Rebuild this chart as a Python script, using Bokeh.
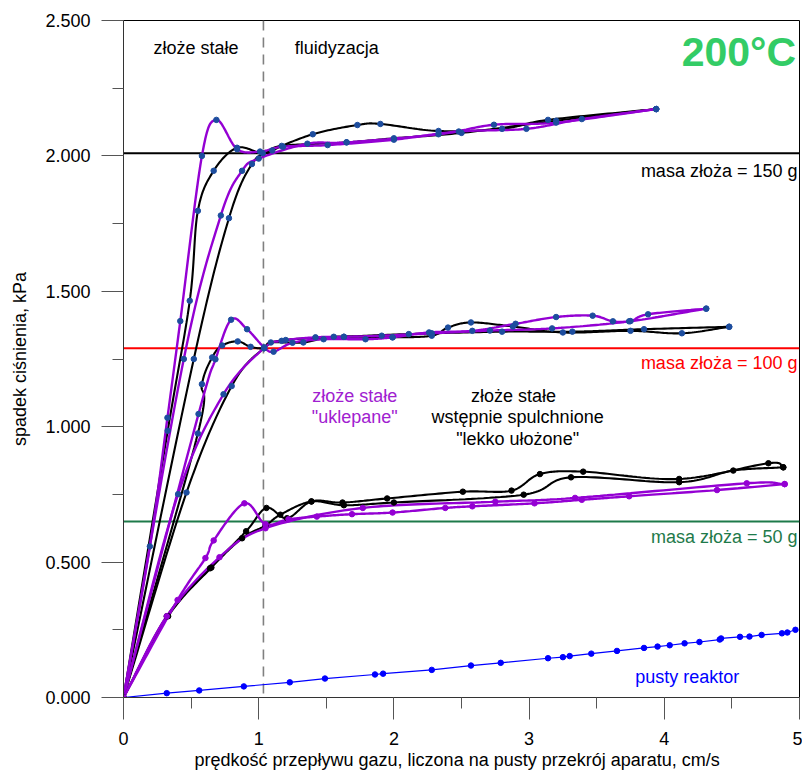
import numpy as np
from bokeh.plotting import figure
from bokeh.models import Span, Label, Title, SingleIntervalTicker, NumeralTickFormatter
from bokeh.embed import file_html
from bokeh.resources import INLINE

# ---------------- data ----------------
# 150 g bed
p150a_x = [0, 0.195, 0.325, 0.42, 0.58, 0.687, 0.84, 1.01, 1.18, 1.51, 2.0, 2.48, 2.98, 3.39, 3.94]
p150a_y = [0, 0.558, 1.033, 1.39, 2.0, 2.133, 2.025, 2.016, 2.034, 2.04, 2.06, 2.09, 2.10, 2.136, 2.173]
p150b_x = [0, 0.446, 0.72, 0.877, 1.0, 1.36, 1.65, 2.33, 2.74, 3.2, 3.94]
p150b_y = [0, 1.25, 1.78, 1.945, 1.99, 2.045, 2.05, 2.08, 2.115, 2.123, 2.173]
b150a_x = [0, 0.327, 0.49, 0.55, 0.667, 0.84, 1.03, 1.17, 1.65, 2.0, 2.5, 3.2, 3.94]
b150a_y = [0, 0.985, 1.465, 1.797, 1.945, 2.03, 2.01, 2.037, 2.05, 2.065, 2.085, 2.13, 2.173]
b150b_x = [0, 0.52, 0.78, 0.95, 1.1, 1.4, 1.73, 1.9, 2.33, 2.8, 3.14, 3.94]
b150b_y = [0, 1.25, 1.77, 1.97, 2.02, 2.08, 2.114, 2.118, 2.092, 2.10, 2.133, 2.173]

# 100 g bed
p100a_x = [0, 0.555, 0.68, 0.796, 0.914, 1.04, 1.11, 1.25, 1.48, 1.79, 1.99, 2.26, 2.58, 2.9, 3.2, 3.47, 3.62, 3.75, 3.88, 4.31]
p100a_y = [0, 1.047, 1.249, 1.395, 1.36, 1.293, 1.277, 1.31, 1.323, 1.323, 1.33, 1.348, 1.354, 1.38, 1.405, 1.41, 1.389, 1.39, 1.415, 1.436]
p100b_x = [0, 0.404, 0.74, 1.04, 1.17, 1.42, 1.63, 1.91, 2.28, 2.71, 3.17, 3.74, 4.31]
p100b_y = [0, 0.751, 1.12, 1.29, 1.317, 1.33, 1.332, 1.336, 1.345, 1.355, 1.363, 1.389, 1.436]
b100a_x = [0, 0.55, 0.58, 0.656, 0.73, 0.845, 0.94, 1.04, 1.09, 1.33, 1.555, 1.99, 2.28, 2.40, 2.57, 2.88, 3.25, 3.75, 4.13, 4.48]
b100a_y = [0, 0.975, 1.157, 1.256, 1.30, 1.315, 1.295, 1.29, 1.311, 1.311, 1.332, 1.33, 1.336, 1.366, 1.385, 1.37, 1.348, 1.354, 1.345, 1.369]
b100b_x = [0, 0.466, 0.8, 1.04, 1.2, 1.63, 2.11, 2.8, 3.32, 3.85, 4.48]
b100b_y = [0, 0.757, 1.15, 1.29, 1.32, 1.332, 1.342, 1.351, 1.351, 1.36, 1.369]

# 50 g bed
p50a_x = [0, 0.40, 0.606, 0.667, 0.894, 1.05, 1.22, 1.43, 1.69, 1.99, 2.38, 2.58, 3.04, 3.39, 3.74, 4.39, 4.89]
p50a_y = [0, 0.36, 0.515, 0.58, 0.717, 0.64, 0.658, 0.668, 0.677, 0.683, 0.70, 0.706, 0.717, 0.73, 0.743, 0.766, 0.788]
p50b_x = [0, 0.32, 0.71, 1.05, 1.77, 2.75, 3.34, 4.61, 4.89]
p50b_y = [0, 0.30, 0.518, 0.625, 0.70, 0.723, 0.737, 0.791, 0.788]
b50a_x = [0, 0.32, 0.64, 0.907, 1.057, 1.21, 1.39, 1.62, 1.95, 2.51, 2.87, 3.08, 3.40, 4.11, 4.77, 4.88]
b50a_y = [0, 0.30, 0.477, 0.614, 0.70, 0.662, 0.724, 0.72, 0.735, 0.76, 0.764, 0.825, 0.834, 0.807, 0.865, 0.85]
b50b_x = [0, 0.33, 0.65, 0.877, 1.05, 1.16, 1.39, 1.63, 2.0, 2.96, 3.31, 4.11, 4.51, 4.88]
b50b_y = [0, 0.30, 0.48, 0.588, 0.635, 0.675, 0.724, 0.71, 0.72, 0.749, 0.813, 0.795, 0.838, 0.85]

# empty reactor
empty_x = [0, 0.32, 0.56, 0.89, 1.23, 1.49, 1.86, 1.92, 2.28, 2.57, 2.79, 3.14, 3.25, 3.30, 3.46, 3.65,
           3.85, 3.95, 4.04, 4.15, 4.26, 4.41, 4.42, 4.56, 4.63, 4.72, 4.87, 4.91, 4.97]
empty_y = [0, 0.016, 0.026, 0.041, 0.056, 0.07, 0.085, 0.088, 0.102, 0.118, 0.128, 0.145, 0.149, 0.153,
           0.162, 0.172, 0.183, 0.188, 0.193, 0.20, 0.205, 0.214, 0.218, 0.224, 0.225, 0.231, 0.237, 0.24, 0.25]

# bed weight lines and minimum fluidization velocity
bed_levels = [2.01, 1.29, 0.65]
bed_labels = ["masa złoża = 150 g", "masa złoża = 100 g", "masa złoża = 50 g"]
u_mf = 1.035

x_ticks_interval = 1
y_ticks_interval = 0.5

# ---------------- helpers ----------------
def smooth(xs, ys, n=24):
    """Uniform Catmull-Rom curve through the given points (drawing only)."""
    P = np.column_stack([np.asarray(xs, float), np.asarray(ys, float)])
    if len(P) < 3:
        return P[:, 0], P[:, 1]
    P = np.vstack([2 * P[0] - P[1], P, 2 * P[-1] - P[-2]])
    out = []
    t = np.linspace(0, 1, n, endpoint=False)[:, None]
    for i in range(1, len(P) - 2):
        p0, p1, p2, p3 = P[i - 1], P[i], P[i + 1], P[i + 2]
        seg = 0.5 * ((2 * p1) + (-p0 + p2) * t + (2 * p0 - 5 * p1 + 4 * p2 - p3) * t ** 2
                     + (-p0 + 3 * p1 - 3 * p2 + p3) * t ** 3)
        out.append(seg)
    out.append(P[-2][None, :])
    out = np.vstack(out)
    return out[:, 0], out[:, 1]

FONT = "Liberation Sans"
BLACK = "#000000"
PURPLE = "#9400d3"
DOT = "#1d4d9e"

p = figure(width=802, height=774, x_range=(0, 5), y_range=(0, 2.5),
           output_backend="svg", toolbar_location=None,
           min_border_left=123, min_border_right=3, min_border_top=20, min_border_bottom=77)
p.grid.visible = False
p.background_fill_color = "white"
p.border_fill_color = "white"
p.outline_line_color = "black"
p.outline_line_width = 1

# axes
p.xaxis.ticker = SingleIntervalTicker(interval=x_ticks_interval, num_minor_ticks=2)
p.yaxis.ticker = SingleIntervalTicker(interval=y_ticks_interval, num_minor_ticks=2)
p.yaxis.formatter = NumeralTickFormatter(format="0.000")
for ax in (p.xaxis, p.yaxis):
    ax.major_tick_out = 22
    ax.major_tick_in = 0
    ax.minor_tick_out = 11
    ax.minor_tick_in = 0
    ax.major_tick_line_color = "#555555"
    ax.minor_tick_line_color = "#555555"
    ax.axis_line_color = "#333333"
    ax.major_label_text_font = FONT
    ax.major_label_text_font_size = "18px"
    ax.major_label_text_color = "black"
    ax.axis_label_text_font = FONT
    ax.axis_label_text_font_size = "18px"
    ax.axis_label_text_font_style = "normal"
    ax.axis_label_text_color = "black"
p.xaxis.major_label_standoff = 12
p.yaxis.major_label_standoff = 11
p.yaxis.axis_label = "spadek ciśnienia, kPa"
p.yaxis.axis_label_standoff = 12

# x-axis title (placed left of centre, as in the original)
p.add_layout(Title(text="prędkość przepływu gazu, liczona na pusty przekrój aparatu, cm/s",
                   align="left", offset=71, standoff=0, text_font=FONT, text_font_size="18px",
                   text_font_style="normal", text_color="black"), "below")

# reference lines
level_colors = ["#000000", "#ff0000", "#1e7a4a"]
for lvl, col in zip(bed_levels, level_colors):
    p.add_layout(Span(location=lvl, dimension="width", line_color=col, line_width=2, level="underlay"))
p.add_layout(Span(location=u_mf, dimension="height", line_color="#808080", line_width=1.6,
                  line_dash="10 7", level="underlay"))

# empty reactor
p.line(empty_x, empty_y, line_color="#0000ff", line_width=1.2)
p.scatter(empty_x, empty_y, size=5.5, color="#0000ff")

series = [
    (b150a_x, b150a_y, BLACK, DOT), (b150b_x, b150b_y, BLACK, DOT),
    (p150a_x, p150a_y, PURPLE, DOT), (p150b_x, p150b_y, PURPLE, DOT),
    (b100a_x, b100a_y, BLACK, DOT), (b100b_x, b100b_y, BLACK, DOT),
    (p100a_x, p100a_y, PURPLE, DOT), (p100b_x, p100b_y, PURPLE, DOT),
    (b50a_x, b50a_y, BLACK, BLACK), (b50b_x, b50b_y, BLACK, BLACK),
    (p50a_x, p50a_y, PURPLE, PURPLE), (p50b_x, p50b_y, PURPLE, PURPLE),
]
for xs, ys, lc, mc in series:
    sx, sy = smooth(xs, ys)
    p.line(sx, sy, line_color=lc, line_width=2.4 if lc == PURPLE else 2.1)
for xs, ys, lc, mc in series:
    p.scatter(xs, ys, size=5.5, color=mc)

# texts
def label(x, y, text, color="black", size="18px", align="center", style="normal"):
    p.add_layout(Label(x=x, y=y, text=text, text_color=color, text_font=FONT,
                       text_font_size=size, text_align=align, text_baseline="middle",
                       text_font_style=style))

label(0.536, 2.40, "złoże stałe")
label(1.578, 2.40, "fluidyzacja")
label(4.975, 2.385, "200°C", color="#33cc66", size="41px", align="right", style="bold")
label(4.985, 1.945, bed_labels[0], color="black", align="right")
label(4.985, 1.237, bed_labels[1], color="#ff0000", align="right")
label(4.985, 0.592, bed_labels[2], color="#1e7a4a", align="right")
label(4.17, 0.075, "pusty reaktor", color="#0000ff")
label(1.71, 1.114, "złoże stałe", color="#a020d0")
label(1.71, 1.034, "\"uklepane\"", color="#a020d0")
label(2.885, 1.114, "złoże stałe")
label(2.915, 1.034, "wstępnie spulchnione")
label(2.915, 0.956, "\"lekko ułożone\"")

open("out.html", "w").write(file_html(p, INLINE))
